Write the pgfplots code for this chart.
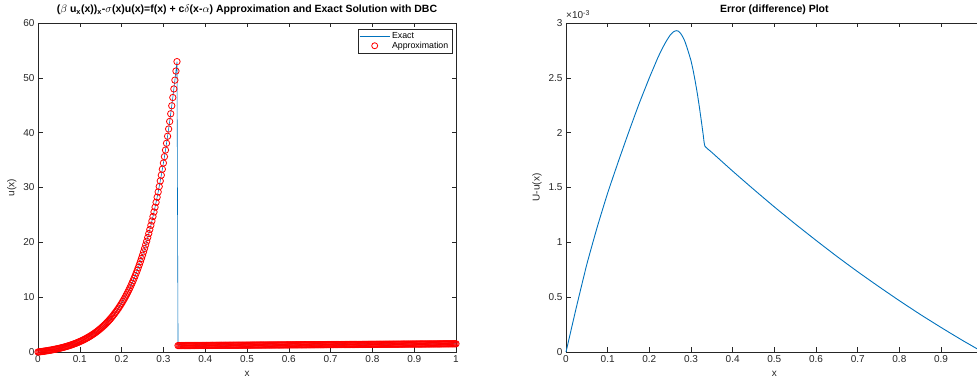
\documentclass[border=0pt]{standalone}
\usepackage{pgfplots}
\pgfplotsset{compat=1.18}
\usepackage{pgfplotstable}
\usepackage{fontspec}
\setmainfont{Liberation Sans}
\definecolor{mblue}{rgb}{0,0.447,0.741}
\definecolor{axgray}{rgb}{0.15,0.15,0.15}

\pgfplotstableread[row sep=\\]{
x u\\
0 0\\ 0.0025 0.0235\\ 0.005 0.0478\\ 0.0075 0.0729\\
0.01 0.0988\\ 0.0125 0.1256\\ 0.015 0.1533\\ 0.0175 0.1819\\
0.02 0.2114\\ 0.0225 0.2419\\ 0.025 0.2734\\ 0.0275 0.3060\\
0.03 0.3396\\ 0.0325 0.3743\\ 0.035 0.4102\\ 0.0375 0.4473\\
0.04 0.4856\\ 0.0425 0.5252\\ 0.045 0.5660\\ 0.0475 0.6082\\
0.05 0.6519\\ 0.0525 0.6970\\ 0.055 0.7435\\ 0.0575 0.7916\\
0.06 0.8412\\ 0.0625 0.8925\\ 0.065 0.9455\\ 0.0675 1.0003\\
0.07 1.0568\\ 0.0725 1.1152\\ 0.075 1.1756\\ 0.0775 1.2380\\
0.08 1.3024\\ 0.0825 1.3689\\ 0.085 1.4377\\ 0.0875 1.5087\\
0.09 1.5821\\ 0.0925 1.6579\\ 0.095 1.7361\\ 0.0975 1.8170\\
0.1 1.9005\\ 0.1025 1.9868\\ 0.105 2.0760\\ 0.1075 2.1681\\
0.11 2.2632\\ 0.1125 2.3615\\ 0.115 2.4630\\ 0.1175 2.5679\\
0.12 2.6763\\ 0.1225 2.7882\\ 0.125 2.9038\\ 0.1275 3.0232\\
0.13 3.1467\\ 0.1325 3.2742\\ 0.135 3.4066\\ 0.1375 3.5427\\
0.14 3.6824\\ 0.1425 3.8276\\ 0.145 3.9775\\ 0.1475 4.1324\\
0.15 4.2924\\ 0.1525 4.4577\\ 0.155 4.6285\\ 0.1575 4.8049\\
0.16 4.9872\\ 0.1625 5.1755\\ 0.165 5.3699\\ 0.1675 5.5708\\
0.17 5.7784\\ 0.1725 5.9928\\ 0.175 6.2143\\ 0.1775 6.4431\\
0.18 6.6794\\ 0.1825 6.9236\\ 0.185 7.1759\\ 0.1875 7.4365\\
0.19 7.7056\\ 0.1925 7.9837\\ 0.195 8.2709\\ 0.1975 8.5676\\
0.2 8.8742\\ 0.2025 9.1909\\ 0.205 9.5180\\ 0.2075 9.8559\\
0.21 10.2050\\ 0.2125 10.5656\\ 0.215 10.9382\\ 0.2175 11.3231\\
0.22 11.7206\\ 0.2225 12.1313\\ 0.225 12.5555\\ 0.2275 12.9938\\
0.23 13.4463\\ 0.2325 13.9140\\ 0.235 14.3971\\ 0.2375 14.8962\\
0.24 15.4118\\ 0.2425 15.9444\\ 0.245 16.4946\\ 0.2475 17.0630\\
0.25 17.6507\\ 0.2525 18.2573\\ 0.255 18.8839\\ 0.2575 19.5312\\
0.26 20.2000\\ 0.2625 20.8908\\ 0.265 21.6044\\ 0.2675 22.3416\\
0.27 23.1031\\ 0.2725 23.8898\\ 0.275 24.7022\\ 0.2775 25.5417\\
0.28 26.4077\\ 0.2825 27.3036\\ 0.285 28.2292\\ 0.2875 29.1853\\
0.29 30.1745\\ 0.2925 31.1948\\ 0.295 32.2490\\ 0.2975 33.3378\\
0.3 34.4625\\ 0.3025 35.6245\\ 0.305 36.8248\\ 0.3075 38.0648\\
0.31 39.3458\\ 0.3125 40.6692\\ 0.315 42.0362\\ 0.3175 43.4479\\
0.32 44.9069\\ 0.3225 46.4135\\ 0.325 47.9707\\ 0.3275 49.5787\\
0.33 51.2401\\ 0.3325 52.9560\\
0.335 1.1675\\ 0.3375 1.16875\\
0.34 1.17\\ 0.3425 1.17125\\ 0.345 1.1725\\ 0.3475 1.17375\\
0.35 1.175\\ 0.3525 1.17625\\ 0.355 1.1775\\ 0.3575 1.17875\\
0.36 1.18\\ 0.3625 1.18125\\ 0.365 1.1825\\ 0.3675 1.18375\\
0.37 1.185\\ 0.3725 1.18625\\ 0.375 1.1875\\ 0.3775 1.18875\\
0.38 1.19\\ 0.3825 1.19125\\ 0.385 1.1925\\ 0.3875 1.19375\\
0.39 1.195\\ 0.3925 1.19625\\ 0.395 1.1975\\ 0.3975 1.19875\\
0.4 1.2\\ 0.4025 1.20125\\ 0.405 1.2025\\ 0.4075 1.20375\\
0.41 1.205\\ 0.4125 1.20625\\ 0.415 1.2075\\ 0.4175 1.20875\\
0.42 1.21\\ 0.4225 1.21125\\ 0.425 1.2125\\ 0.4275 1.21375\\
0.43 1.215\\ 0.4325 1.21625\\ 0.435 1.2175\\ 0.4375 1.21875\\
0.44 1.22\\ 0.4425 1.22125\\ 0.445 1.2225\\ 0.4475 1.22375\\
0.45 1.225\\ 0.4525 1.22625\\ 0.455 1.2275\\ 0.4575 1.22875\\
0.46 1.23\\ 0.4625 1.23125\\ 0.465 1.2325\\ 0.4675 1.23375\\
0.47 1.235\\ 0.4725 1.23625\\ 0.475 1.2375\\ 0.4775 1.23875\\
0.48 1.24\\ 0.4825 1.24125\\ 0.485 1.2425\\ 0.4875 1.24375\\
0.49 1.245\\ 0.4925 1.24625\\ 0.495 1.2475\\ 0.4975 1.24875\\
0.5 1.25\\ 0.5025 1.25125\\ 0.505 1.2525\\ 0.5075 1.25375\\
0.51 1.255\\ 0.5125 1.25625\\ 0.515 1.2575\\ 0.5175 1.25875\\
0.52 1.26\\ 0.5225 1.26125\\ 0.525 1.2625\\ 0.5275 1.26375\\
0.53 1.265\\ 0.5325 1.26625\\ 0.535 1.2675\\ 0.5375 1.26875\\
0.54 1.27\\ 0.5425 1.27125\\ 0.545 1.2725\\ 0.5475 1.27375\\
0.55 1.275\\ 0.5525 1.27625\\ 0.555 1.2775\\ 0.5575 1.27875\\
0.56 1.28\\ 0.5625 1.28125\\ 0.565 1.2825\\ 0.5675 1.28375\\
0.57 1.285\\ 0.5725 1.28625\\ 0.575 1.2875\\ 0.5775 1.28875\\
0.58 1.29\\ 0.5825 1.29125\\ 0.585 1.2925\\ 0.5875 1.29375\\
0.59 1.295\\ 0.5925 1.29625\\ 0.595 1.2975\\ 0.5975 1.29875\\
0.6 1.3\\ 0.6025 1.30125\\ 0.605 1.3025\\ 0.6075 1.30375\\
0.61 1.305\\ 0.6125 1.30625\\ 0.615 1.3075\\ 0.6175 1.30875\\
0.62 1.31\\ 0.6225 1.31125\\ 0.625 1.3125\\ 0.6275 1.31375\\
0.63 1.315\\ 0.6325 1.31625\\ 0.635 1.3175\\ 0.6375 1.31875\\
0.64 1.32\\ 0.6425 1.32125\\ 0.645 1.3225\\ 0.6475 1.32375\\
0.65 1.325\\ 0.6525 1.32625\\ 0.655 1.3275\\ 0.6575 1.32875\\
0.66 1.33\\ 0.6625 1.33125\\ 0.665 1.3325\\ 0.6675 1.33375\\
0.67 1.335\\ 0.6725 1.33625\\ 0.675 1.3375\\ 0.6775 1.33875\\
0.68 1.34\\ 0.6825 1.34125\\ 0.685 1.3425\\ 0.6875 1.34375\\
0.69 1.345\\ 0.6925 1.34625\\ 0.695 1.3475\\ 0.6975 1.34875\\
0.7 1.35\\ 0.7025 1.35125\\ 0.705 1.3525\\ 0.7075 1.35375\\
0.71 1.355\\ 0.7125 1.35625\\ 0.715 1.3575\\ 0.7175 1.35875\\
0.72 1.36\\ 0.7225 1.36125\\ 0.725 1.3625\\ 0.7275 1.36375\\
0.73 1.365\\ 0.7325 1.36625\\ 0.735 1.3675\\ 0.7375 1.36875\\
0.74 1.37\\ 0.7425 1.37125\\ 0.745 1.3725\\ 0.7475 1.37375\\
0.75 1.375\\ 0.7525 1.37625\\ 0.755 1.3775\\ 0.7575 1.37875\\
0.76 1.38\\ 0.7625 1.38125\\ 0.765 1.3825\\ 0.7675 1.38375\\
0.77 1.385\\ 0.7725 1.38625\\ 0.775 1.3875\\ 0.7775 1.38875\\
0.78 1.39\\ 0.7825 1.39125\\ 0.785 1.3925\\ 0.7875 1.39375\\
0.79 1.395\\ 0.7925 1.39625\\ 0.795 1.3975\\ 0.7975 1.39875\\
0.8 1.4\\ 0.8025 1.40125\\ 0.805 1.4025\\ 0.8075 1.40375\\
0.81 1.405\\ 0.8125 1.40625\\ 0.815 1.4075\\ 0.8175 1.40875\\
0.82 1.41\\ 0.8225 1.41125\\ 0.825 1.4125\\ 0.8275 1.41375\\
0.83 1.415\\ 0.8325 1.41625\\ 0.835 1.4175\\ 0.8375 1.41875\\
0.84 1.42\\ 0.8425 1.42125\\ 0.845 1.4225\\ 0.8475 1.42375\\
0.85 1.425\\ 0.8525 1.42625\\ 0.855 1.4275\\ 0.8575 1.42875\\
0.86 1.43\\ 0.8625 1.43125\\ 0.865 1.4325\\ 0.8675 1.43375\\
0.87 1.435\\ 0.8725 1.43625\\ 0.875 1.4375\\ 0.8775 1.43875\\
0.88 1.44\\ 0.8825 1.44125\\ 0.885 1.4425\\ 0.8875 1.44375\\
0.89 1.445\\ 0.8925 1.44625\\ 0.895 1.4475\\ 0.8975 1.44875\\
0.9 1.45\\ 0.9025 1.45125\\ 0.905 1.4525\\ 0.9075 1.45375\\
0.91 1.455\\ 0.9125 1.45625\\ 0.915 1.4575\\ 0.9175 1.45875\\
0.92 1.46\\ 0.9225 1.46125\\ 0.925 1.4625\\ 0.9275 1.46375\\
0.93 1.465\\ 0.9325 1.46625\\ 0.935 1.4675\\ 0.9375 1.46875\\
0.94 1.47\\ 0.9425 1.47125\\ 0.945 1.4725\\ 0.9475 1.47375\\
0.95 1.475\\ 0.9525 1.47625\\ 0.955 1.4775\\ 0.9575 1.47875\\
0.96 1.48\\ 0.9625 1.48125\\ 0.965 1.4825\\ 0.9675 1.48375\\
0.97 1.485\\ 0.9725 1.48625\\ 0.975 1.4875\\ 0.9775 1.48875\\
0.98 1.49\\ 0.9825 1.49125\\ 0.985 1.4925\\ 0.9875 1.49375\\
0.99 1.495\\ 0.9925 1.49625\\ 0.995 1.4975\\ 0.9975 1.49875\\
1 1.5\\
}\solution

\pgfplotstableread{
x e
0 0
0.025 0.41
0.05 0.80
0.075 1.14
0.1 1.45
0.125 1.73
0.15 2.00
0.175 2.26
0.2 2.50
0.21 2.59
0.22 2.68
0.23 2.76
0.24 2.83
0.25 2.89
0.258 2.92
0.265 2.93
0.27 2.925
0.275 2.905
0.28 2.875
0.285 2.835
0.29 2.78
0.295 2.72
0.3 2.655
0.305 2.57
0.31 2.47
0.315 2.36
0.32 2.235
0.325 2.10
0.3293 1.98
0.3333 1.878
0.35 1.820
0.4 1.649
0.45 1.484
0.5 1.323
0.55 1.168
0.6 1.018
0.65 0.872
0.7 0.732
0.75 0.598
0.8 0.468
0.85 0.343
0.9 0.224
0.95 0.109
1 0
}\errtab

\pgfplotsset{mlstyle/.style={
  scale only axis,
  clip=false,
  axis line style={axgray, line width=0.5pt},
  every tick/.style={axgray, line width=0.5pt},
  major tick length=4.5pt,
  tick align=inside,
  ticklabel style={font=\fontsize{10}{12}\selectfont, text=axgray},
  /pgf/number format/assume math mode=true,
  label style={font=\fontsize{10}{12}\selectfont, text=axgray},
  xlabel style={at={(0.5,0)}, anchor=base, yshift=-25pt},
  xmin=0, xmax=1,
}}

\begin{document}
\begin{tikzpicture}[x=1pt,y=1pt]
\useasboundingbox (0,0) rectangle (977,382);
\begin{axis}[mlstyle,
  at={(38pt,30pt)}, anchor=south west,
  width=418pt, height=329pt,
  xtick={0,0.1,0.2,0.3,0.4,0.5,0.6,0.7,0.8,0.9,1},
  ymin=0, ymax=60, ytick={0,10,20,30,40,50,60},
  xlabel={x}, ylabel={u(x)},
  legend style={at={(1,1)}, anchor=north east, xshift=-4pt, yshift=-6pt,
    font=\fontsize{8.8}{10}\selectfont, draw=axgray, line width=0.5pt,
    inner sep=1.5pt, row sep=-2.5pt},
  legend cell align=left,
]
\addplot[mblue, line width=0.6pt,
  legend image code/.code={\draw[mblue,line width=0.6pt] (0pt,0pt) -- (30pt,0pt);}]
  table[x=x,y=u] {\solution};
\addlegendentry{Exact}
\addplot[only marks, red, mark=o, mark size=3.2pt, mark options={line width=0.8pt},
  legend image code/.code={\draw[red,line width=0.8pt] (15pt,0pt) circle (3pt);}]
  table[x=x,y=u] {\solution};
\addlegendentry{Approximation}
\node[anchor=base, font=\bfseries\fontsize{10.5}{12}\selectfont, inner sep=0pt]
  at (rel axis cs:0.5,1) [yshift=10pt]
  {($\beta$ u\textsubscript{x}(x))\textsubscript{x}-$\sigma$(x)u(x)=f(x) + c$\delta$(x-$\alpha$) Approximation and Exact Solution with DBC};
\end{axis}

\begin{axis}[mlstyle,
  at={(566pt,30pt)}, anchor=south west,
  width=416.7pt, height=329pt,
  xtick={0,0.1,0.2,0.3,0.4,0.5,0.6,0.7,0.8,0.9},
  ymin=0, ymax=3, ytick={0,0.5,1,1.5,2,2.5,3},
  xlabel={x}, ylabel={U-u(x)},
]
\addplot[mblue, line width=0.9pt, smooth, tension=0.3] table[x=x,y=e] {\errtab};
\node[anchor=base, font=\bfseries\fontsize{10.5}{12}\selectfont, inner sep=0pt]
  at (rel axis cs:0.5,1) [yshift=10pt] {Error (difference) Plot};
\node[anchor=base west, inner sep=0pt, text=axgray, font=\fontsize{10}{12}\selectfont]
  at (rel axis cs:0,1) [yshift=4pt] {×10\textsuperscript{-3}};
\end{axis}
\end{tikzpicture}
\end{document}
